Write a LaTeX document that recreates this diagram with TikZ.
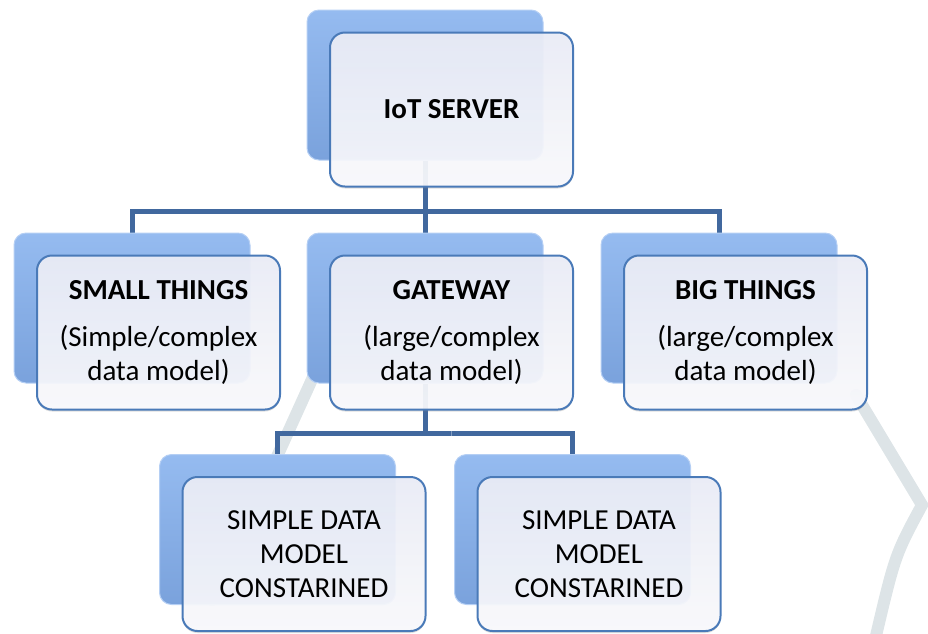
\documentclass[tikz,border=0pt]{standalone}
\usepackage{fontspec}
\setmainfont{Carlito}
\usepackage{tikz}
\usetikzlibrary{positioning, backgrounds, shadows}
\usepackage{xcolor}

\definecolor{linkblue}{HTML}{41689E}
\definecolor{boxedge}{HTML}{4A7AB8}
\definecolor{reartop}{HTML}{95BBF0}
\definecolor{rearbot}{HTML}{7AA2DC}
\definecolor{facetop}{HTML}{ECEEF8}
\definecolor{facebot}{HTML}{FBFBFE}
\definecolor{logogrey}{HTML}{DDE4E7}

\begin{document}
\begin{tikzpicture}[on grid, node distance=223pt,
    rearbox/.style={rounded corners=12pt, minimum width=236pt, minimum height=150pt,
      top color=reartop, bottom color=rearbot, draw=reartop!70!white, line width=1pt},
    facebox/.style={rounded corners=15pt, minimum width=243pt, minimum height=154pt,
      top color=facetop, bottom color=facebot, fill opacity=.92, text opacity=1,
      draw=boxedge, line width=2pt, align=center, font=\fontsize{29}{34}\selectfont,
      drop shadow={shadow xshift=0pt, shadow yshift=-2pt, opacity=.25}},
    link/.style={draw=linkblue, line width=5pt},
    logo/.style={draw=logogrey, line width=12pt, line cap=round}]
  \useasboundingbox (0,0) rectangle (928pt,-633pt);

  \node[rearbox] (srvb) at (425pt,-85pt) {};
  \node[facebox, below right=24.5pt and 26.5pt of srvb] (srv) {\textbf{IoT SERVER}};

  \node[rearbox, below=of srvb] (gwb) {};
  \node[facebox, below right=24.5pt and 26.5pt of gwb] (gw)
    {\textbf{GATEWAY}\\[13pt](large/complex\\data model)};

  \node[rearbox, left=293pt of gwb] (smb) {};
  \node[facebox, below right=24.5pt and 26.5pt of smb] (sm)
    {\textbf{SMALL THINGS}\\[13pt](Simple/complex\\data model)};

  \node[rearbox, right=294pt of gwb] (bgb) {};
  \node[facebox, below right=24.5pt and 26.5pt of bgb] (bg)
    {\textbf{BIG THINGS}\\[13pt](large/complex\\data model)};

  \node[rearbox, below left=221.5pt and 147.5pt of gwb] (s1b) {};
  \node[facebox, below right=24.5pt and 26.5pt of s1b] (s1)
    {SIMPLE DATA\\MODEL\\CONSTARINED};

  \node[rearbox, below right=221.5pt and 147.5pt of gwb] (s2b) {};
  \node[facebox, below right=24.5pt and 26.5pt of s2b] (s2)
    {SIMPLE DATA\\MODEL\\CONSTARINED};

  \coordinate[below=23.5pt of srv.south] (j1);
  \coordinate[below=23pt of gw.south] (j2);

  \begin{pgfonlayer}{background}
    % faint logo strokes behind the chart
    \draw[logo] (338pt,-322pt) -- (212pt,-600pt);
    \draw[logo] (856pt,-395pt) -- (922pt,-505pt) .. controls (895pt,-555pt) .. (875pt,-640pt);

    \draw[link] (srvb.south) |- (j1) -| (smb.north);
    \draw[link] (j1) -| (gwb.north);
    \draw[link] (j1) -| (bgb.north);
    \draw[link] (gwb.south) |- (j2) -| (s1b.north);
    \draw[link] (j2) -| (s2b.north);
  \end{pgfonlayer}
\end{tikzpicture}
\end{document}
